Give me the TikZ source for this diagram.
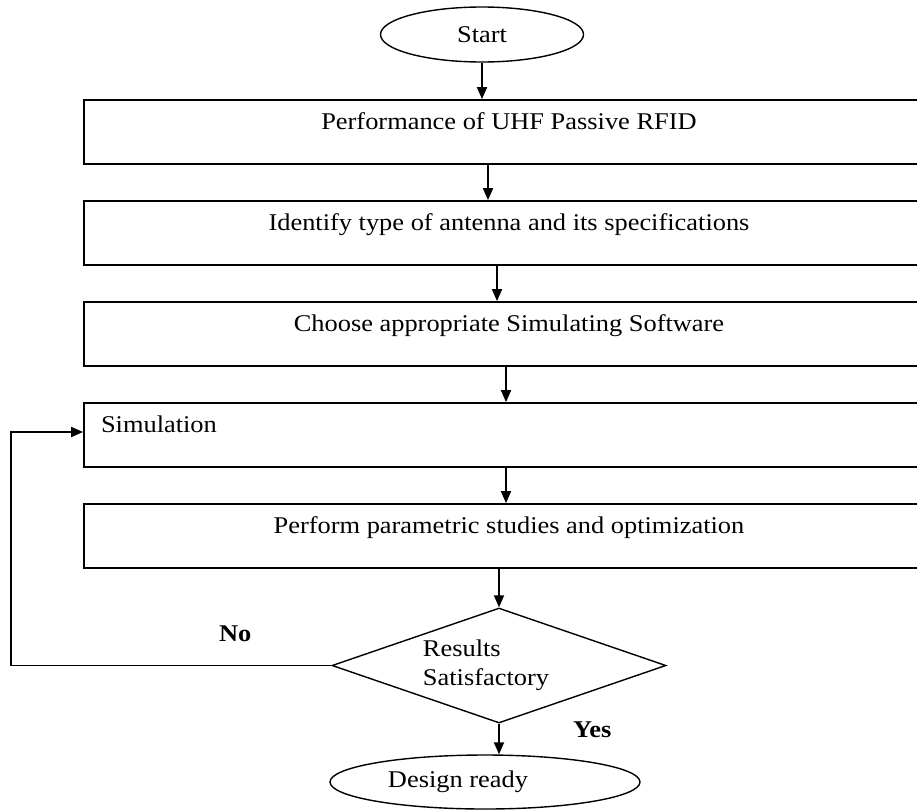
\documentclass[tikz,border=0pt]{standalone}
\usepackage{fontspec}
\setmainfont{Liberation Serif}[FakeStretch=1.1]
\usetikzlibrary{arrows.meta,shapes.geometric}
\tikzstyle{stage} = [draw, rectangle, minimum width=850pt,%
	inner xsep=0pt, inner ysep=0pt,%
	text height=29pt, text depth=35pt]

\begin{document}
\begin{tikzpicture}[node distance=101pt,>={Triangle[length=12pt,width=10pt]},line width=1.8pt,font=\fontsize{24}{29}\selectfont]
    \tikzstyle{terminal}=[ellipse,draw,line width=1.4pt,inner sep=0pt]
    \tikzstyle{answer}=[font=\fontsize{24}{29}\selectfont\bfseries]
    \path[use as bounding box,clip] (0pt,0pt) rectangle (917pt,-809pt);
    \begin{scope}
      \node[terminal,minimum width=203pt,minimum height=55pt](start) at (482pt,-34.5pt){Start};
      \node[stage](perf) at (509pt,-132pt){Performance of UHF Passive RFID};
      \node[stage,below of=perf](ident){Identify type of antenna and its specifications};
      \node[stage,below of=ident](choose){Choose appropriate Simulating Software};
      \node[stage,below of=choose,align=left,text width=816pt,inner xsep=17pt](sim){Simulation};
      \node[stage,below of=sim](param){Perform parametric studies and optimization};
      \node[draw,diamond,line width=1.4pt,shape aspect=2.9,minimum width=334pt,minimum height=115pt,inner sep=0pt,align=left,
        node distance=129.5pt,below of=param,xshift=-10pt](check){Results\\Satisfactory\hspace*{26pt}};
      \node[terminal,minimum width=310pt,minimum height=54pt,
        node distance=116.5pt,below of=check,xshift=-14pt](ready){Design ready\hspace*{54pt}};
    \end{scope}
    % connectors
    \draw[->] (start.south) -- (start.south |- perf.north);
    \draw[->] ([xshift=-21pt]perf.south) -- ([xshift=-21pt]perf.south |- ident.north);
    \draw[->] ([xshift=-12pt]ident.south) -- ([xshift=-12pt]ident.south |- choose.north);
    \draw[->] ([xshift=-3pt]choose.south) -- ([xshift=-3pt]choose.south |- sim.north);
    \draw[->] ([xshift=-3pt]sim.south) -- ([xshift=-3pt]sim.south |- param.north);
    \draw[->] ([xshift=-10pt]param.south) -- (check.north);
    \draw[->] (check.south) -- node[answer,right=70pt,pos=0.2]{Yes} (check.south |- ready.north);
    \draw[->] (check.west) -- node[answer,above=20pt,pos=0.3]{No} ++(-320pt,0) |- ([yshift=3pt]sim.west);
  \end{tikzpicture}
\end{document}
